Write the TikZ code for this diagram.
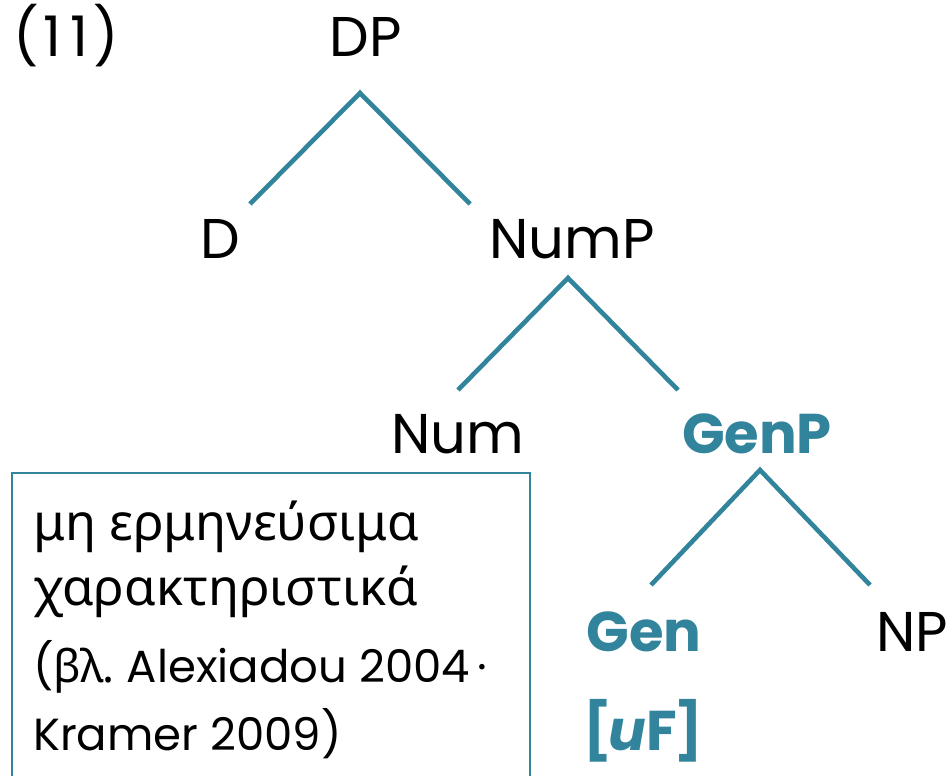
\documentclass[tikz,border=0pt]{standalone}
\usepackage{fontspec}
\setmainfont{Poppins}
\newfontfamily\greekfont{Noto Sans}
\definecolor{teal}{RGB}{49,132,155}
\begin{document}
\begin{tikzpicture}[x=1pt,y=-1pt,
  lbl/.style={anchor=base,inner sep=0pt,font=\fontsize{56}{60}\selectfont},
  hl/.style={lbl,text=teal,font=\fontsize{56}{60}\selectfont\bfseries},
  edge/.style={draw=teal,line width=4.6pt},
  boxtxt/.style={anchor=base west,inner sep=0pt,font=\fontsize{51}{60}\selectfont},
  boxsmall/.style={anchor=base west,inner sep=0pt,font=\fontsize{45}{60}\selectfont}]
\useasboundingbox (0,0) rectangle (951,776);
\node[lbl,anchor=base west] (num) at (13,57) {(\kern5pt1\kern9pt1\kern5pt)};
\node[lbl] (DP) at (366,57) {DP};
\node[lbl] (D) at (220,258) {D};
\node[lbl] (NumP) at (572,258) {NumP};
\node[lbl] (Num) at (458,453) {Num};
\node[hl] (GenP) at (757,453) {GenP};
\node[hl] (Gen) at (644,651) {Gen};
\node[lbl] (NP) at (912,651) {NP};
\node[hl,anchor=base west] (uF) at (583,750) {[\kern-3pt\textit{u}F\kern-3pt]};
% branch points
\coordinate (a1) at (360,93);
\coordinate (a1l) at (250,204);
\coordinate (a1r) at (470,204);
\coordinate (a2) at (568,278);
\coordinate (a2l) at (458,390);
\coordinate (a2r) at (678,390);
\coordinate (a3) at (760,470);
\coordinate (a3l) at (651,585);
\coordinate (a3r) at (870,585);
\draw[edge] (a1l) -- (a1) -- (a1r);
\draw[edge] (a2l) -- (a2) -- (a2r);
\draw[edge] (a3l) -- (a3) -- (a3r);
% note box
\draw[teal,line width=1.5pt] (12,776) -- (12,473) -- (530,473) -- (530,776);
\node[boxtxt] (t1) at (33,540) {\greekfont μη ερμηνεύσιμα};
\node[boxtxt] (t2) at (33,605) {\greekfont χαρακτηριστικά};
\node[boxsmall] (t3) at (33,682) {({\greekfont βλ.}\ Alexiadou 2004\,·};
\node[boxsmall] (t4) at (33,750) {Kramer 2009)};
\end{tikzpicture}
\end{document}
